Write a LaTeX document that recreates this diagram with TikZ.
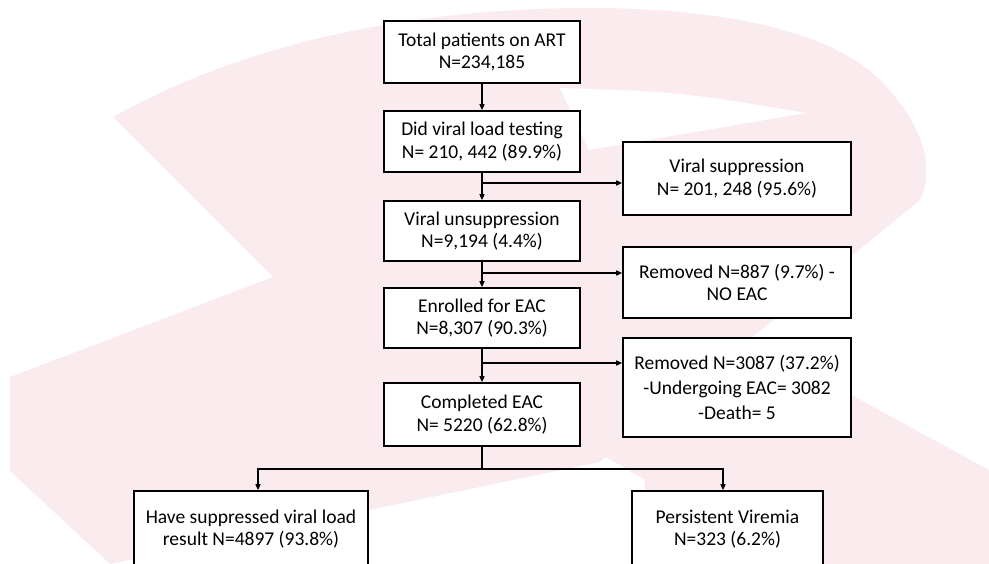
\documentclass[tikz,border=0pt]{standalone}
\usepackage{fontspec}
\setmainfont{Carlito}
\usetikzlibrary{arrows.meta,calc,positioning}
\definecolor{ribbon}{RGB}{250,236,238}
\tikzset{
  box/.style  = {draw, line width=1.6pt, fill=white, align=center, inner sep=2pt,
                 font=\fontsize{19.5}{22.5}\selectfont},
  wire/.style = {line width=1.4pt},
  arr/.style  = {wire, -{Triangle[length=6pt,width=5pt]}},
}
\begin{document}
\begin{tikzpicture}[x=1pt,y=-1pt]
  \useasboundingbox (0,0) rectangle (989,564);
  % faint ribbon behind the chart
  \fill[ribbon] (113,117) .. controls (250,40) and (420,8) .. (589,8)
    .. controls (720,8) and (830,30) .. (880,80)
    .. controls (925,125) and (935,170) .. (920,200)
    -- (600,462) -- (110,564) -- (10,471) -- (10,377) -- (273,277) -- cycle;
  \fill[white] (560,88) .. controls (680,92) .. (806,113) -- (589,150) -- cycle;
  \fill[ribbon] (716,321) -- (989,470) -- (989,564) -- (645,564) -- (645,480)
    -- (560,430) -- cycle;
  % main column
  \node[box, minimum width=196, minimum height=62] (tot)  at (482,52)
    {Total patients on ART\\N=234,185};
  \node[box, minimum width=196, minimum height=61] (vlt)  at (482,141.5)
    {Did viral load testing\\N= 210, 442 (89.9\%)};
  \node[box, minimum width=196, minimum height=60] (uns)  at (482,231)
    {Viral unsuppression\\N=9,194 (4.4\%)};
  \node[box, minimum width=196, minimum height=60] (enr)  at (482,318)
    {Enrolled for EAC\\N=8,307 (90.3\%)};
  \node[box, minimum width=196, minimum height=63] (comp) at (482,414.5)
    {Completed EAC\\N= 5220 (62.8\%)};
  % side boxes
  \node[box, minimum width=228, minimum height=73] (sup)  at (737,178.5)
    {Viral suppression\\N= 201, 248 (95.6\%)};
  \node[box, minimum width=228, minimum height=71] (rem1) at (737,282.5)
    {Removed N=887 (9.7\%) -\\NO EAC};
  \node[box, minimum width=228, minimum height=99] (rem2) at (737,387.5)
    {Removed N=3087 (37.2\%)\\[2.5pt]-Undergoing EAC= 3082\\[2.5pt]-Death= 5};
  % outcomes
  \node[box, minimum width=234, minimum height=76] (have) at (251,529)
    {Have suppressed viral load\\result N=4897 (93.8\%)};
  \node[box, minimum width=191, minimum height=76] (pers) at (727.5,529)
    {Persistent Viremia\\N=323 (6.2\%)};
  % connectors
  \coordinate (j1) at (482,183);
  \coordinate (j2) at (482,273);
  \coordinate (j3) at (482,363);
  \coordinate (j4) at (482,469);
  \draw[arr] (tot) -- (vlt);
  \draw[arr] (vlt) -- (uns);
  \draw[arr] (uns) -- (enr);
  \draw[arr] (enr) -- (comp);
  \draw[arr] (j1) -- (j1 -| sup.west);
  \draw[arr] (j2) -- (j2 -| rem1.west);
  \draw[arr] (j3) -- (j3 -| rem2.west);
  \draw[wire] (comp) -- (j4);
  \draw[arr] (j4) -| ([xshift=7pt]have.north);
  \draw[arr] (j4) -| ([xshift=-4.5pt]pers.north);
\end{tikzpicture}
\end{document}
